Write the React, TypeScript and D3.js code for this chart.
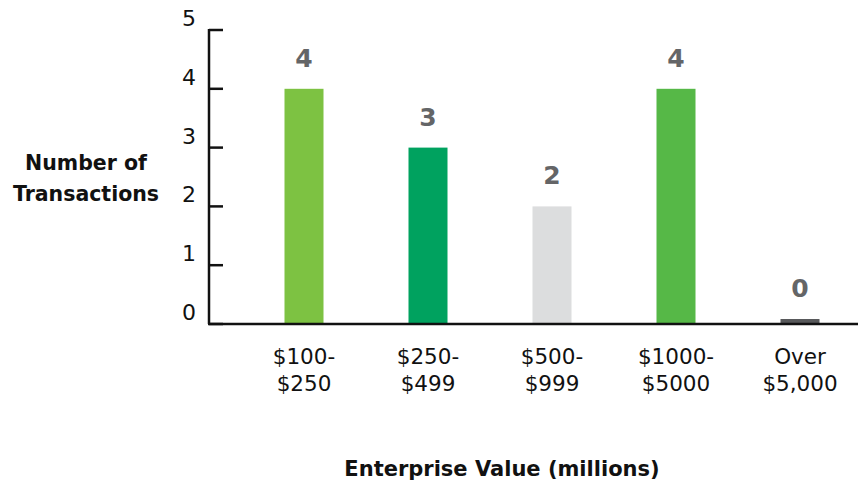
import React from "react";
import * as d3 from "d3";

const categories = ["$100-|$250", "$250-|$499", "$500-|$999", "$1000-|$5000", "Over|$5,000"];
const values = [4, 3, 2, 4, 0];
const barColors = ["#7DC242", "#00A25F", "#DCDDDE", "#56B847", "#58595B"];
const yTicks = [0, 1, 2, 3, 4, 5];

const W = 858;
const H = 484;
const FONT = "'DejaVu Sans', sans-serif";

export default function App() {
  const axisX = 209;
  const y = d3.scaleLinear().domain([0, 5]).range([324, 30]);
  const x = d3.scalePoint<string>().domain(categories).range([304, 800]);
  const barW = 39;
  const minH = 5;

  return (
    <svg width={W} height={H} style={{ position: "absolute", left: 0, top: 0, background: "#fff" }}>
      {categories.map((c, i) => {
        const v = values[i];
        const top = v === 0 ? y(0) - minH : y(v);
        return (
          <g key={c}>
            <rect x={(x(c) as number) - barW / 2} y={top} width={barW} height={y(0) - top} fill={barColors[i]} />
            <text
              x={x(c) as number}
              y={top - 22}
              textAnchor="middle"
              fontFamily={FONT}
              fontWeight={700}
              fontSize={25}
              fill="#646567"
            >
              {v}
            </text>
          </g>
        );
      })}
      <line x1={axisX} x2={axisX} y1={y(5) - 1} y2={y(0)} stroke="#111" strokeWidth={2.5} />
      {yTicks.map((t) => (
        <g key={t}>
          <line x1={axisX} x2={axisX + 14} y1={y(t)} y2={y(t)} stroke="#111" strokeWidth={2.5} />
          <text x={196} y={y(t) - 4} textAnchor="end" fontFamily={FONT} fontSize={22} fill="#111">
            {t}
          </text>
        </g>
      ))}
      <line x1={axisX - 1} x2={W} y1={y(0)} y2={y(0)} stroke="#111" strokeWidth={2.5} />
      {categories.map((c) => {
        const parts = c.split("|");
        return (
          <text key={c} textAnchor="middle" fontFamily={FONT} fontSize={21.5} fill="#111">
            {parts.map((p, j) => (
              <tspan key={j} x={x(c) as number} y={364 + j * 27}>
                {p}
              </tspan>
            ))}
          </text>
        );
      })}
      <text textAnchor="middle" fontFamily={FONT} fontWeight={700} fontSize={20.5} fill="#111">
        <tspan x={86} y={170}>Number of</tspan>
        <tspan x={86} y={201}>Transactions</tspan>
      </text>
      <text x={502} y={476} textAnchor="middle" fontFamily={FONT} fontWeight={700} fontSize={21} fill="#111">
        Enterprise Value (millions)
      </text>
    </svg>
  );
}
